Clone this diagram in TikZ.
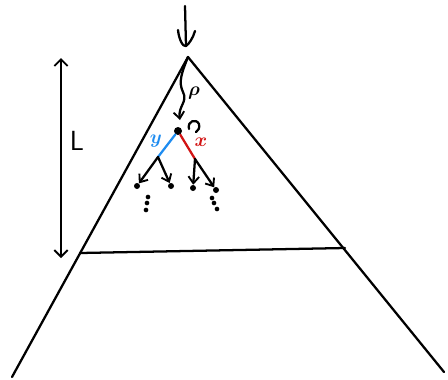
\documentclass[tikz,border=0pt]{standalone}
\usetikzlibrary{arrows.meta}
\definecolor{myblue}{RGB}{30,140,240}
\definecolor{myred}{RGB}{210,20,20}
\begin{document}
\begin{tikzpicture}[x=0.75pt,y=-0.75pt,
  ln/.style={line width=1.7pt,line cap=round,line join=round},
  arr/.style={ln,-{Straight Barb[length=5pt,width=8pt,line width=1.4pt]}},
  lab/.style={inner sep=1pt,font=\Large\boldmath},
  dotn/.style={circle,fill=black,inner sep=0pt,minimum size=4.5pt}]
\useasboundingbox (0,0) rectangle (448,379);
% triangle
\coordinate (apex) at (188,57);
\coordinate (bl) at (12,377);
\coordinate (br) at (444,372);
\coordinate (hl) at (80,253);
\coordinate (hr) at (345,248);
\draw[ln] (bl) -- (apex) -- (br);
\draw[ln] (hl) -- (hr);
% top arrow
\coordinate (topS) at (185,6);
\coordinate (topE) at (186,46);
\coordinate (tipL) at (178,30);
\coordinate (tipR) at (195,31);
\draw[ln] (topS) -- (topE);
\draw[ln] (tipL) .. controls (179,40) and (183,47) .. (topE) .. controls (189,44) and (193,38) .. (tipR);
% L arrow
\coordinate (Lt) at (61,58);
\coordinate (Lb) at (61,258);
\draw[ln,{Straight Barb[length=5pt,width=10pt,line width=1.4pt]}-{Straight Barb[length=5pt,width=10pt,line width=1.4pt]}] (Lt) -- (Lb);
\node[inner sep=1pt,font=\huge\sffamily] (L) at (77,141) {L};
% wavy path rho
\coordinate (rhoE) at (180,120);
\draw[arr] (apex) .. controls (182,72) and (178,82) .. (183,92) .. controls (188,102) and (178,106) .. (rhoE);
\node[lab] (rho) at (194,93) {$\rho$};
% root dot
\node[dotn,minimum size=6pt] (root) at (178,131) {};
% curl
\draw[ln] (189,129) .. controls (187,121) and (196,118) .. (199,124) .. controls (200,128) and (198,131) .. (196,132);
% blue and red edges
\coordinate (yb) at (158,157);
\coordinate (xb) at (195,159);
\draw[ln,myblue] (root) -- (yb);
\draw[ln,myred] (root) -- (xb);
\node[lab,text=myblue] (ylab) at (156,141) {$y$};
\node[lab,text=myred] (xlab) at (201,142) {$x$};
% children
\node[dotn] (c1) at (137,186) {};
\node[dotn] (c2) at (171,186) {};
\node[dotn] (c3) at (193,188) {};
\node[dotn] (c4) at (216,190) {};
\draw[arr] (yb) -- (c1);
\draw[arr] (yb) -- (c2);
\draw[arr] (xb) -- (c3);
\draw[arr] (xb) -- (c4);
% vertical dots
\node[dotn,minimum size=3.5pt] (d1) at (148,197) {};
\node[dotn,minimum size=3.5pt] (d2) at (147,203) {};
\node[dotn,minimum size=3.5pt] (d3) at (146,210) {};
\node[dotn,minimum size=3.5pt] (e1) at (212,198) {};
\node[dotn,minimum size=3.5pt] (e2) at (214,203) {};
\node[dotn,minimum size=3.5pt] (e3) at (217,209) {};
\end{tikzpicture}
\end{document}
